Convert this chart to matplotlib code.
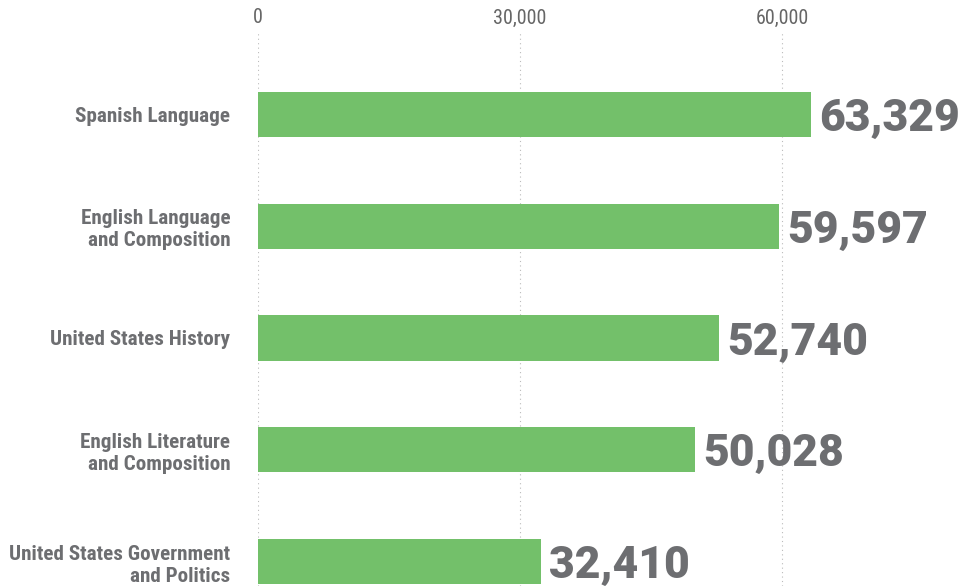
"""Horizontal bar chart: AP exams by subject."""

import matplotlib
matplotlib.use("Agg")
import matplotlib.pyplot as plt
from matplotlib.ticker import FuncFormatter

subjects = [
    "Spanish Language",
    "English Language\nand Composition",
    "United States History",
    "English Literature\nand Composition",
    "United States Government\nand Politics",
]
counts = [63329, 59597, 52740, 50028, 32410]
x_ticks = [0, 30000, 60000]

GREEN = "#73c06a"
GREY = "#6d6e71"
COND = ["Roboto Condensed", "DejaVu Sans"]

fig = plt.figure(figsize=(9.62, 5.86), dpi=100)
ax = fig.add_axes([258 / 962, 0.0, 1 - 258 / 962, (586 - 33) / 586])

ypos = list(range(len(subjects)))
ax.barh(ypos, counts, height=0.403, color=GREEN, zorder=2)

for y, v in zip(ypos, counts):
    ax.annotate(f"{v:,}", (v, y), xytext=(6, 0), textcoords="offset points",
                va="center_baseline", ha="left", fontsize=32, fontweight=900,
                color=GREY, family=["Roboto", "DejaVu Sans"])

ax.set_xlim(0, 80600)
ax.set_ylim(4.219, -0.729)

ax.xaxis.tick_top()
ax.set_xticks(x_ticks)
ax.xaxis.set_major_formatter(FuncFormatter(lambda v, _: f"{int(v):,}"))
ax.tick_params(axis="x", length=0, pad=4, labelsize=14.5, labelcolor="#666666")
for lab in ax.get_xticklabels():
    lab.set_family(COND)
    lab.set_fontweight(400)

ax.set_yticks(ypos)
ax.set_yticklabels(subjects, fontsize=15.2, fontweight="bold", color=GREY,
                   family=COND, linespacing=1.2)
ax.tick_params(axis="y", length=0, pad=20)

ax.grid(axis="x", color="#bbbbbb", lw=0.8, ls=(0, (1, 3)), zorder=0)
for s in ax.spines.values():
    s.set_visible(False)

fig.savefig("out.png", dpi=100)
